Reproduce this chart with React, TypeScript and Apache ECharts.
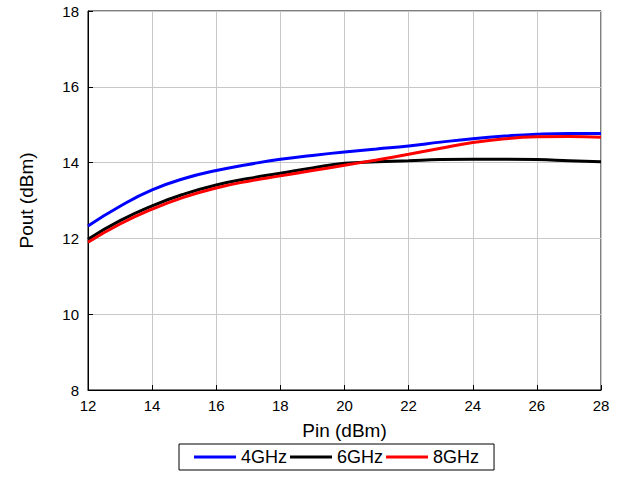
import React, { useEffect, useRef } from "react";
import * as echarts from "echarts";

const pin = [12, 13, 14, 15, 16, 17, 18, 19, 20, 21, 22, 23, 24, 25, 26, 27, 28];
const ghz4 = [12.33, 12.85, 13.28, 13.58, 13.79, 13.95, 14.09, 14.19, 14.28, 14.36, 14.44, 14.54, 14.63, 14.7, 14.75, 14.77, 14.77];
const ghz6 = [11.98, 12.47, 12.86, 13.17, 13.41, 13.58, 13.72, 13.86, 13.98, 14.02, 14.05, 14.08, 14.09, 14.09, 14.08, 14.05, 14.02];
const ghz8 = [11.9, 12.38, 12.77, 13.09, 13.33, 13.51, 13.65, 13.79, 13.93, 14.07, 14.22, 14.38, 14.53, 14.63, 14.68, 14.69, 14.67];
const seriesNames = ["4GHz", "6GHz", "8GHz"];
const seriesColors = ["#0000ff", "#000000", "#ff0000"];

export default function App() {
  const ref = useRef<HTMLDivElement>(null);
  useEffect(() => {
    if (!ref.current) return;
    const chart = echarts.init(ref.current, null, { renderer: "svg" });
    const font = "Liberation Sans, Arial, sans-serif";
    const datasets = [ghz4, ghz6, ghz8];
    chart.setOption({
      animation: false,
      textStyle: { fontFamily: font },
      grid: {
        left: 88,
        top: 11,
        width: 513,
        height: 379,
        show: true,
        borderColor: "#000",
        borderWidth: 1,
        backgroundColor: "transparent",
      },
      legend: {
        left: 179,
        top: 444,
        orient: "horizontal",
        data: seriesNames,
        icon: "rect",
        itemWidth: 42,
        itemHeight: 3,
        itemGap: 3,
        padding: [4, 15, 4, 15],
        borderColor: "#000",
        borderWidth: 1,
        textStyle: { fontFamily: font, fontSize: 18, color: "#000" },
      },
      xAxis: {
        type: "value",
        min: 12,
        max: 28,
        interval: 2,
        name: "Pin (dBm)",
        nameLocation: "middle",
        nameGap: 31,
        nameTextStyle: { fontFamily: font, fontSize: 19, color: "#000" },
        axisLine: { show: true, lineStyle: { color: "#000", width: 1 } },
        axisTick: { show: true, inside: true, length: 5, lineStyle: { color: "#000" } },
        axisLabel: { fontFamily: font, fontSize: 15, color: "#000", margin: 8 },
        splitLine: { show: true, lineStyle: { color: "#c8c8c8", width: 1 } },
      },
      yAxis: {
        type: "value",
        min: 8,
        max: 18,
        interval: 2,
        name: "Pout (dBm)",
        nameLocation: "middle",
        nameGap: 52,
        nameTextStyle: { fontFamily: font, fontSize: 19, color: "#000" },
        axisLine: { show: true, lineStyle: { color: "#000", width: 1 } },
        axisTick: { show: true, inside: true, length: 5, lineStyle: { color: "#000" } },
        axisLabel: { fontFamily: font, fontSize: 15, color: "#000", margin: 9 },
        splitLine: { show: true, lineStyle: { color: "#c8c8c8", width: 1 } },
      },
      series: datasets.map((d, i) => ({
        name: seriesNames[i],
        type: "line",
        data: pin.map((x, j) => [x, d[j]]),
        smooth: true,
        showSymbol: false,
        symbol: "none",
        itemStyle: { color: seriesColors[i] },
        lineStyle: { color: seriesColors[i], width: 3 },
      })),
    });
    return () => chart.dispose();
  }, []);
  return (
    <div
      ref={ref}
      style={{ position: "absolute", left: 0, top: 0, width: 628, height: 477, background: "#fff" }}
    />
  );
}
